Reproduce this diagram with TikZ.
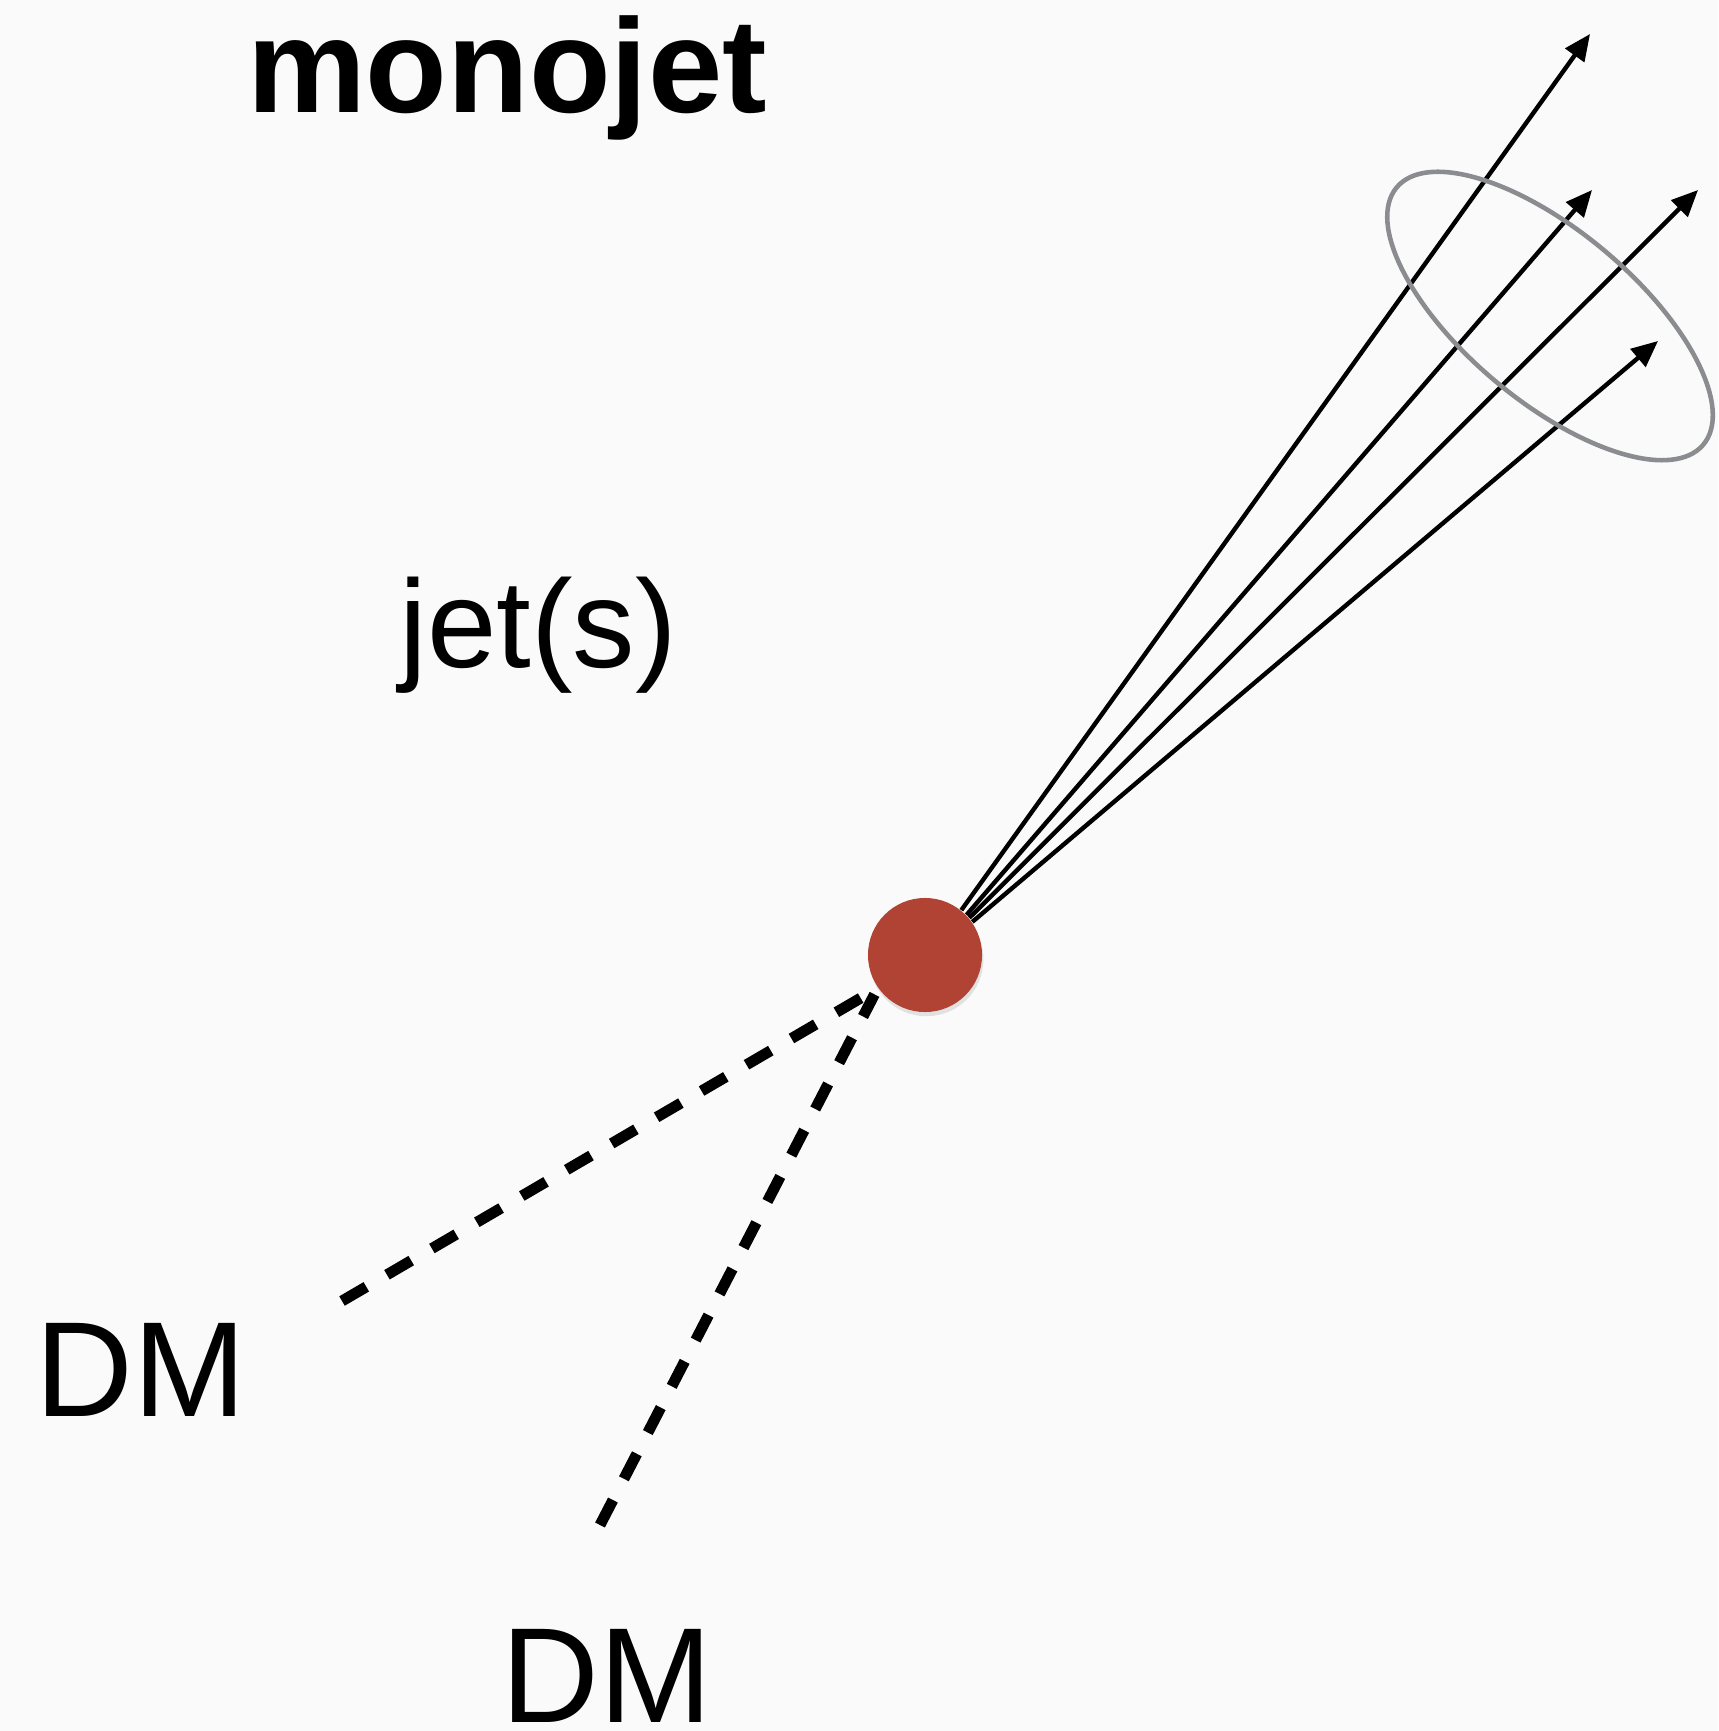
\documentclass[tikz,border=0pt]{standalone}
\usepackage{fontspec}
\setmainfont{Liberation Sans}
\usetikzlibrary{arrows.meta,shadows}
\definecolor{blobred}{RGB}{176,67,51}
\definecolor{conegray}{RGB}{138,140,143}
\definecolor{paper}{RGB}{250,250,250}

\begin{document}
\begin{tikzpicture}[x=0.01cm, y=-0.01cm,
    title/.style={font=\fontsize{38}{42}\selectfont\bfseries, anchor=base, inner sep=0pt},
    label/.style={font=\fontsize{35.5}{40}\selectfont, anchor=base, inner sep=0pt},
    dmlabel/.style={font=\fontsize{38.5}{42}\selectfont, anchor=base, inner sep=0pt},
    vertex/.style={circle, fill=blobred, minimum size=1.14cm, inner sep=0pt,
      drop shadow={shadow xshift=0.4pt, shadow yshift=-1.2pt, opacity=0.2}},
    parton/.style={line width=1.25pt, -{Triangle[length=7.5pt, width=6.5pt]}},
    invis/.style={line width=3.1pt, dash pattern=on 8pt off 6.8pt, shorten >=2pt},
    cone/.style={draw=conegray, line width=1.3pt}]

    \fill[paper] (0,0) rectangle (1718,1731);
    \useasboundingbox (0,0) rectangle (1718,1731);

    % Define nodes
    \node[title]   (monojet)  at (507,113)  {monojet};
    \node[label]   (jets)     at (538,667)  {jet(s)};
    \node[dmlabel] (dmleft)   at (141,1416) {DM};
    \node[dmlabel] (dmbottom) at (607,1722) {DM};
    \node[vertex]  (vtx)      at (925,955)  {};

    % Free ends
    \coordinate (j1) at (1590,34);
    \coordinate (j2) at (1592,190);
    \coordinate (j3) at (1698,190);
    \coordinate (j4) at (1658,341);
    \coordinate (d1) at (342,1301);
    \coordinate (d2) at (600,1525);

    % Connect the nodes
    \draw[parton] (vtx.51) -- (j1);
    \draw[parton] (vtx.44) -- (j2);
    \draw[parton] (vtx.40) -- (j3);
    \draw[parton] (vtx.35) -- (j4);
    \draw[invis] (d1) -- (vtx.215);
    \draw[invis] (d2) -- (vtx.215);

    % Jet cone
    \draw[cone, rotate around={-40:(1550,316)}] (1550,316) ellipse [x radius=2cm, y radius=0.85cm];

\end{tikzpicture}
\end{document}
